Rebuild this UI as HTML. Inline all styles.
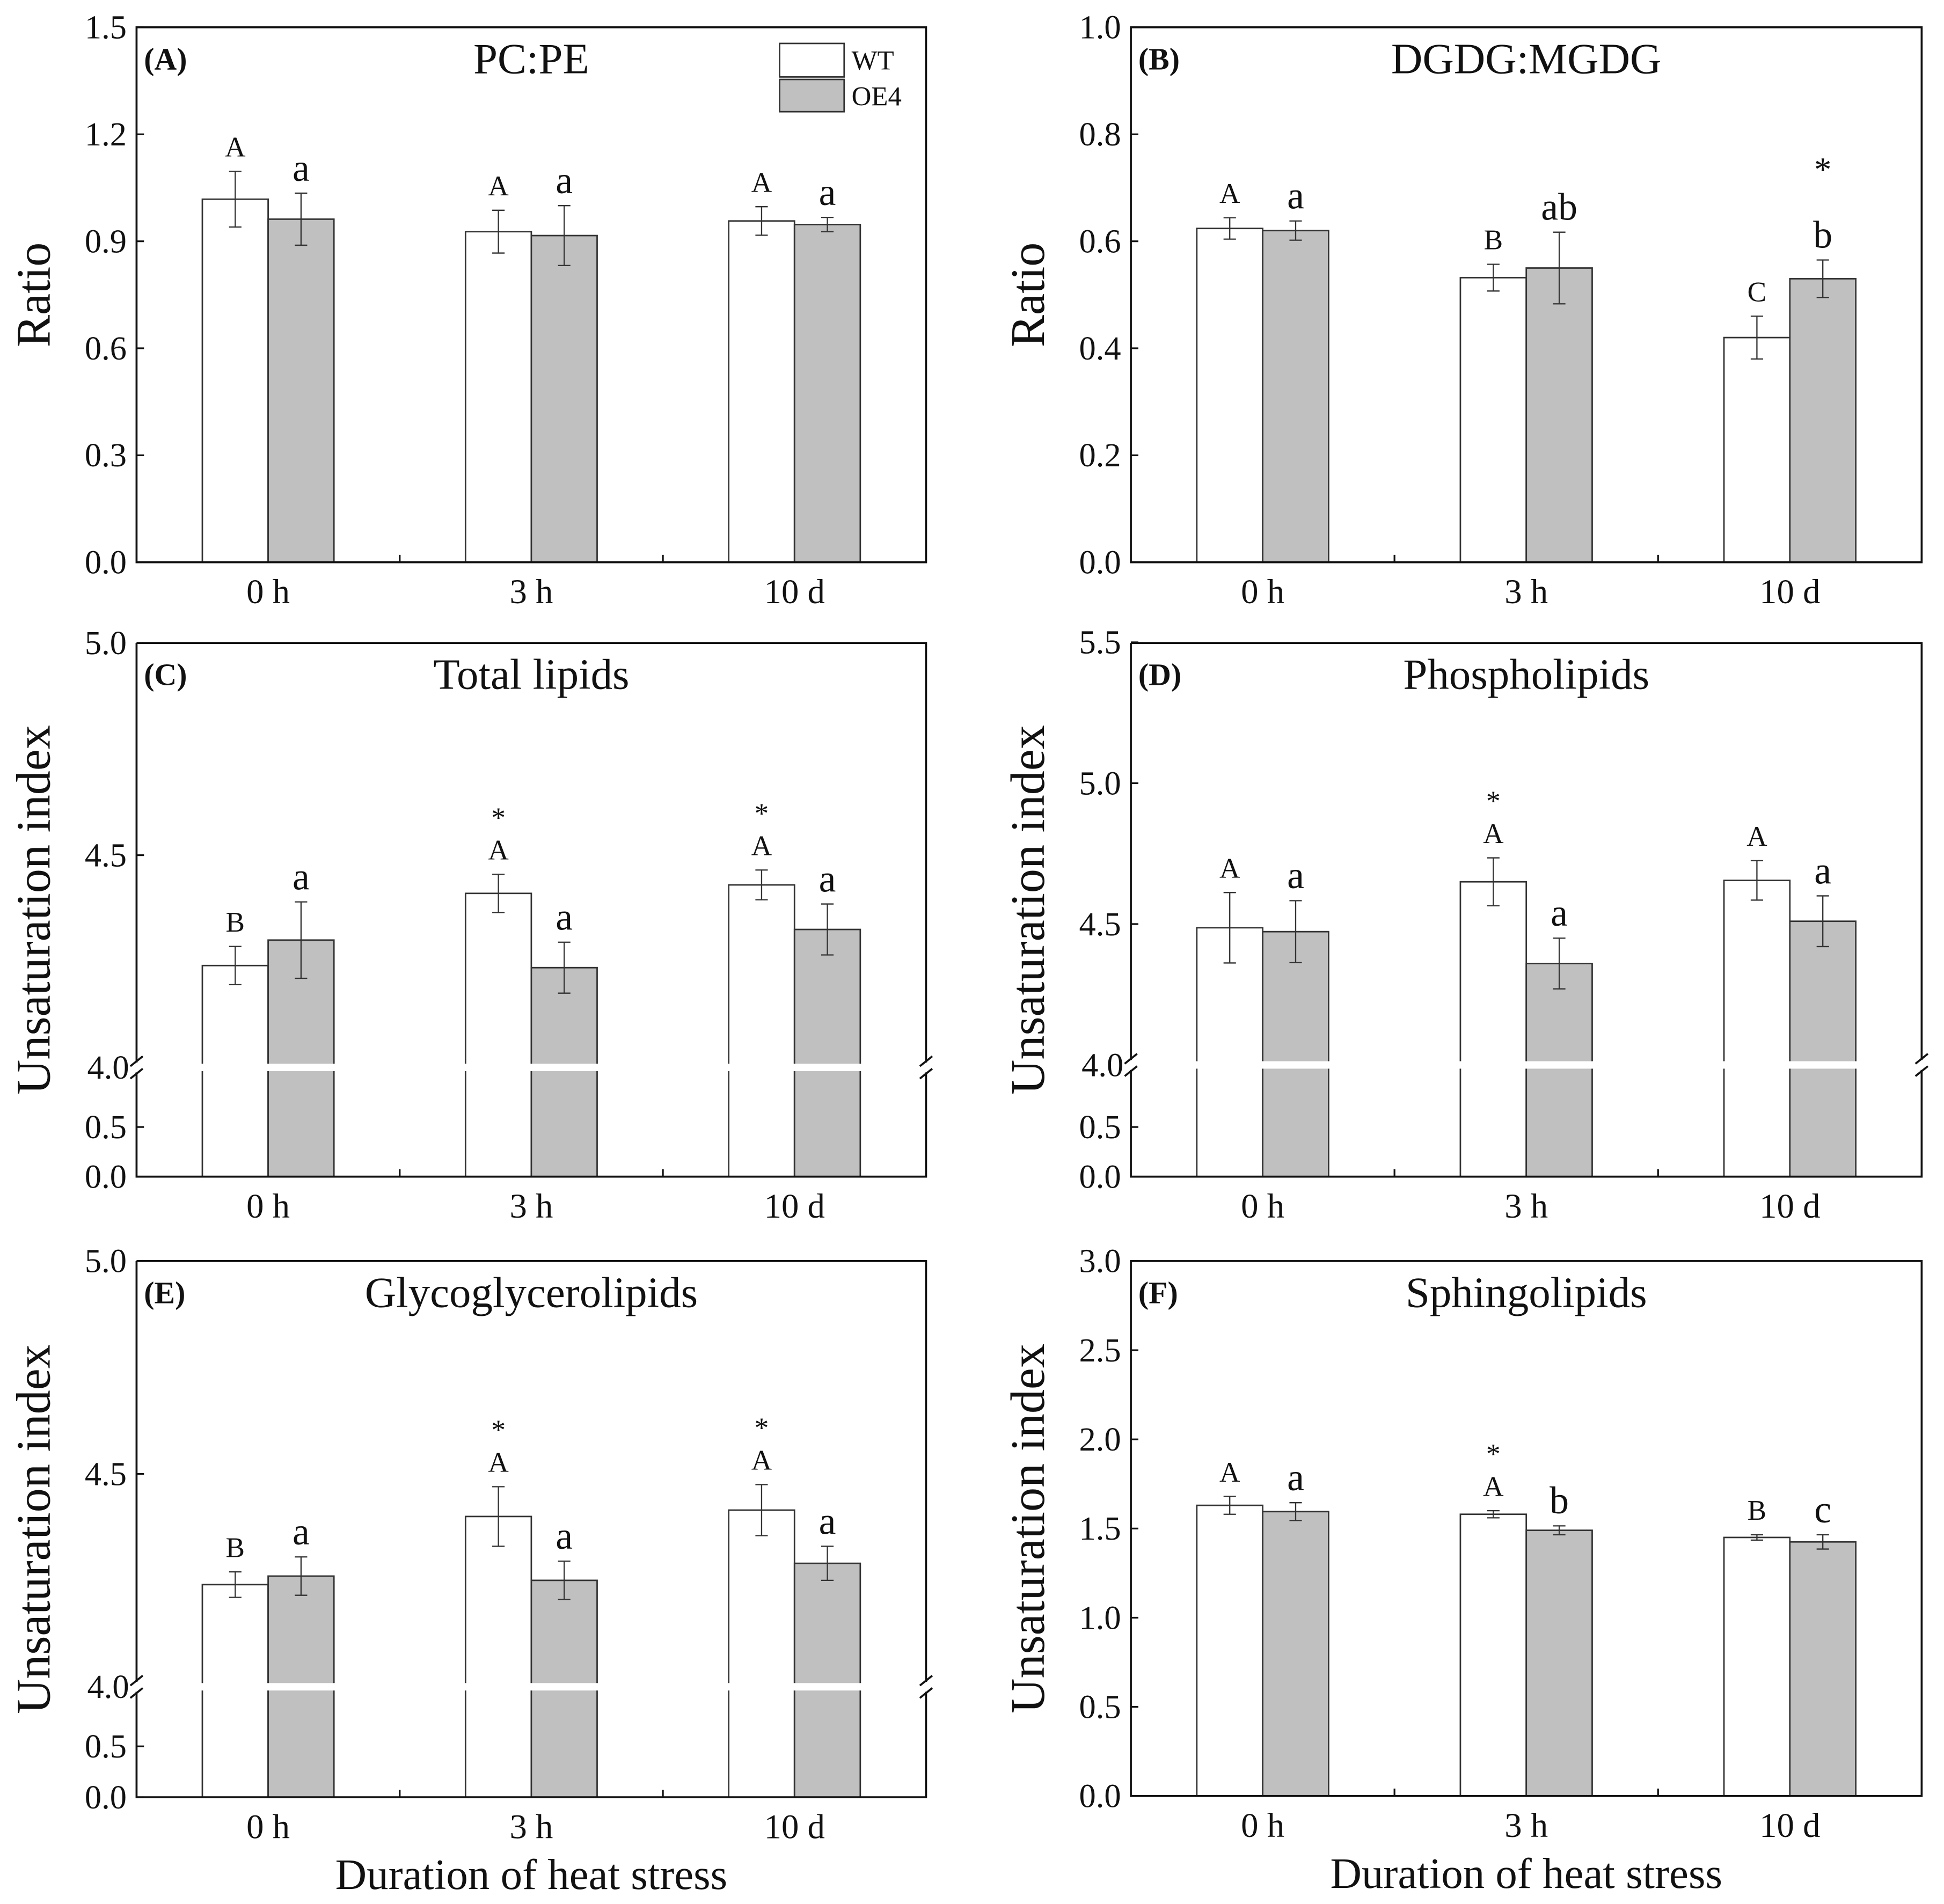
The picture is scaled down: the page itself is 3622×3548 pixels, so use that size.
<!DOCTYPE html>
<html><head><meta charset="utf-8"><style>
html,body{margin:0;padding:0;background:#fff;}
svg{display:block;}
text{font-family:"Liberation Serif",serif;fill:#111;}
</style></head><body>
<svg id="fig" width="3622" height="3548" viewBox="0 0 1566 1534" xmlns="http://www.w3.org/2000/svg"></svg>
<script>
const categories = ["0 h","3 h","10 d"];
// Panel A PC:PE
const aWT = [1.018, 0.927, 0.957];
const aOE = [0.962, 0.916, 0.947];
const aWTErr = [0.078, 0.06, 0.04];
const aOEErr = [0.073, 0.084, 0.02];
const aWTLab = ["A","A","A"];
const aOELab = ["a","a","a"];
const aYTicks = [0.0,0.3,0.6,0.9,1.2,1.5];
// Panel B DGDG:MGDG
const bWT = [0.624, 0.532, 0.42];
const bOE = [0.62, 0.55, 0.53];
const bWTErr = [0.02, 0.025, 0.04];
const bOEErr = [0.018, 0.067, 0.035];
const bWTLab = ["A","B","C"];
const bOELab = ["a","ab","b"];
const bYTicks = [0.0,0.2,0.4,0.6,0.8,1.0];
// Panel C Total lipids
const cWT = [4.24, 4.41, 4.43];
const cOE = [4.30, 4.235, 4.325];
const cWTErr = [0.045, 0.045, 0.035];
const cOEErr = [0.09, 0.06, 0.06];
const cWTLab = ["B","*A","*A"];
const cOELab = ["a","a","a"];
const cYTicks = [4.5,5.0];
// Panel D Phospholipids
const dWT = [4.487, 4.65, 4.655];
const dOE = [4.473, 4.36, 4.51];
const dWTErr = [0.125, 0.085, 0.07];
const dOEErr = [0.11, 0.09, 0.09];
const dWTLab = ["A","*A","A"];
const dOELab = ["a","a","a"];
const dYTicks = [4.5,5.0,5.5];
// Panel E Glycoglycerolipids
const eWT = [4.24, 4.40, 4.415];
const eOE = [4.26, 4.25, 4.29];
const eWTErr = [0.03, 0.07, 0.06];
const eOEErr = [0.045, 0.045, 0.04];
const eWTLab = ["B","*A","*A"];
const eOELab = ["a","a","a"];
const eYTicks = [4.5,5.0];
// Panel F Sphingolipids
const fWT = [1.63, 1.58, 1.45];
const fOE = [1.595, 1.49, 1.425];
const fWTErr = [0.05, 0.02, 0.015];
const fOEErr = [0.05, 0.025, 0.04];
const fWTLab = ["A","*A","B"];
const fOELab = ["a","b","c"];
const fYTicks = [0.0,0.5,1.0,1.5,2.0,2.5,3.0];

const svg = document.getElementById('fig');
const NS = 'http://www.w3.org/2000/svg';
function mk(tag, attrs, parent){
  const e = document.createElementNS(NS, tag);
  for (const k in attrs) e.setAttribute(k, attrs[k]);
  (parent||svg).appendChild(e);
  return e;
}
function txt(s, x, y, size, parent, extra){
  const t = mk('text', Object.assign({x:x, y:y, 'font-size':size, 'text-anchor':'middle'}, extra||{}), parent);
  t.textContent = s;
  return t;
}

function panel(o){
  const g = mk('g', {});
  
  
  const x0=o.x0, x1=o.x1, top=o.top, bot=o.bot;
  const W = x1-x0;
  const xs = i => x0 + W*(2*i+1)/6;
  const bw = W/12;
  let yv;
  if (o.broken){
    yv = v => v >= 3 ? o.breakY - (v-4.0)*o.upScale : bot - v*o.loScale;
  } else {
    yv = v => bot - (v-o.min)/(o.max-o.min)*(bot-top);
  }
  for (let i=0;i<3;i++){
    const c = xs(i);
    const series = [[o.wt, o.wtErr, '#ffffff', c-bw, o.wtLab, 'wt'], [o.oe, o.oeErr, '#c0c0c0', c, o.oeLab, 'oe4']];
    series.forEach(s=>{
      const v = s[0][i], e = s[1][i];
      const yt = yv(v);
      const r = mk('rect', {x:s[3], y:yt, width:bw, height:bot-yt, fill:s[2], stroke:'#333', 'stroke-width':1.2}, g);
      
      
      const cx = s[3]+bw/2, y1 = yv(v+e), y2 = yv(v-e);
      const eb = mk('path', {d:`M${cx},${y1}V${y2}M${cx-5},${y1}H${cx+5}M${cx-5},${y2}H${cx+5}`, stroke:'#333', 'stroke-width':1, fill:'none'}, g);
      
      
      let lab = s[4][i];
      let star = false;
      if (lab[0]==='*'){ star=true; lab = lab.slice(1); }
      const upper = lab === lab.toUpperCase();
      const ly = y1 - (upper ? 12 : 10);
      const lt = txt(lab, cx, ly, upper ? 23 : 31, g);
      
      
      if (star){
        const st = txt('*', cx, ly - (upper?26:34), 23, g);
        
        
      }
    });
  }
  if (o.extraStar){
    const e = o.extraStar;
    const st = txt('*', xs(e.i)+bw/2, e.y, 28, g);
    
    
  }
  if (o.broken){
    mk('rect', {x:x0-8, y:o.breakY-3, width:W+16, height:6, fill:'#fff'}, g);
    mk('path', {d:`M${x0},${top}H${x1}V${o.breakY-4}M${x1},${o.breakY+4}V${bot}H${x0}V${o.breakY+4}M${x0},${o.breakY-4}V${top}`, stroke:'#111', 'stroke-width':1.6, fill:'none'}, g);
    [x0, x1].forEach(xx=>{
      mk('path', {d:`M${xx-5},${o.breakY-1}L${xx+5},${o.breakY-9}M${xx-5},${o.breakY+9}L${xx+5},${o.breakY+1}`, stroke:'#111', 'stroke-width':1.6}, g);
    });
    o.loTicks.forEach(v=>{
      const y = bot - v*o.loScale;
      mk('line', {x1:x0, x2:x0+6, y1:y, y2:y, stroke:'#111', 'stroke-width':1.4}, g);
      const t = txt(v.toFixed(1), x0-8, y+9, 27, g, {'text-anchor':'end'});
      
      
    });
    const t4 = txt('4.0', x0-6, o.breakY+9, 27, g, {'text-anchor':'end'});
    
    
  } else {
    mk('rect', {x:x0, y:top, width:W, height:bot-top, fill:'none', stroke:'#111', 'stroke-width':1.6}, g);
  }
  o.ticks.forEach(v=>{
    const y = yv(v);
    mk('line', {x1:x0, x2:x0+6, y1:y, y2:y, stroke:'#111', 'stroke-width':1.4}, g);
    const t = txt(v.toFixed(1), x0-8, y+9, 27, g, {'text-anchor':'end'});
    
    
  });
  [1,2].forEach(k=>{
    const xx = x0 + W*k/3;
    mk('line', {x1:xx, x2:xx, y1:bot, y2:bot-6, stroke:'#111', 'stroke-width':1.4}, g);
  });
  categories.forEach((c,i)=>{
    const t = txt(c, xs(i), bot+33, 28, g);
    
    
  });
  const pl = txt(o.letter, x0+6, top+34, 25, g, {'text-anchor':'start', 'font-weight':'bold'});
  
  
  const pt = txt(o.title, x0+W/2, top+37, 35, g);
  
  
  const yt = txt(o.ytitle, 0, 0, 39, g, {transform:`translate(${x0-70},${(top+bot)/2}) rotate(-90)`});
  
  
  if (o.xtitle){
    const xt = txt('Duration of heat stress', x0+W/2, bot+74, 35, g);
    
    
  }
}

const L0=110, L1=746, R0=911, R1=1548;
panel({name:'panel-a-pc-pe', letter:'(A)', title:'PC:PE', ytitle:'Ratio', x0:L0,x1:L1,top:22,bot:453,min:0,max:1.5,ticks:aYTicks,
  wt:aWT,oe:aOE,wtErr:aWTErr,oeErr:aOEErr,wtLab:aWTLab,oeLab:aOELab});
panel({name:'panel-b-dgdg-mgdg', letter:'(B)', title:'DGDG:MGDG', ytitle:'Ratio', x0:R0,x1:R1,top:22,bot:453,min:0,max:1.0,ticks:bYTicks,
  wt:bWT,oe:bOE,wtErr:bWTErr,oeErr:bOEErr,wtLab:bWTLab,oeLab:bOELab, extraStar:{i:2,y:146}});
panel({name:'panel-c-total-lipids', letter:'(C)', title:'Total lipids', ytitle:'Unsaturation index', x0:L0,x1:L1,top:518,bot:948,broken:true,breakY:860,upScale:342,loScale:80,loTicks:[0.0,0.5],ticks:cYTicks,
  wt:cWT,oe:cOE,wtErr:cWTErr,oeErr:cOEErr,wtLab:cWTLab,oeLab:cOELab});
panel({name:'panel-d-phospholipids', letter:'(D)', title:'Phospholipids', ytitle:'Unsaturation index', x0:R0,x1:R1,top:518,bot:948,broken:true,breakY:858,upScale:227,loScale:80,loTicks:[0.0,0.5],ticks:dYTicks,
  wt:dWT,oe:dOE,wtErr:dWTErr,oeErr:dOEErr,wtLab:dWTLab,oeLab:dOELab});
panel({name:'panel-e-glycoglycerolipids', letter:'(E)', title:'Glycoglycerolipids', ytitle:'Unsaturation index', x0:L0,x1:L1,top:1016,bot:1448,broken:true,breakY:1359,upScale:343,loScale:82,loTicks:[0.0,0.5],ticks:eYTicks,
  wt:eWT,oe:eOE,wtErr:eWTErr,oeErr:eOEErr,wtLab:eWTLab,oeLab:eOELab, xtitle:true});
panel({name:'panel-f-sphingolipids', letter:'(F)', title:'Sphingolipids', ytitle:'Unsaturation index', x0:R0,x1:R1,top:1016,bot:1447,min:0,max:3.0,ticks:fYTicks,
  wt:fWT,oe:fOE,wtErr:fWTErr,oeErr:fOEErr,wtLab:fWTLab,oeLab:fOELab, xtitle:true});

const lg = mk('g', {});


const l1 = mk('rect', {x:628,y:35,width:52,height:27,fill:'#fff',stroke:'#333','stroke-width':1.2}, lg);


const l2 = mk('rect', {x:628,y:64,width:52,height:26,fill:'#c0c0c0',stroke:'#333','stroke-width':1.2}, lg);


const lt1 = txt('WT', 686, 56, 22, lg, {'text-anchor':'start'});


const lt2 = txt('OE4', 686, 85, 22, lg, {'text-anchor':'start'});


</script>
</body></html>
